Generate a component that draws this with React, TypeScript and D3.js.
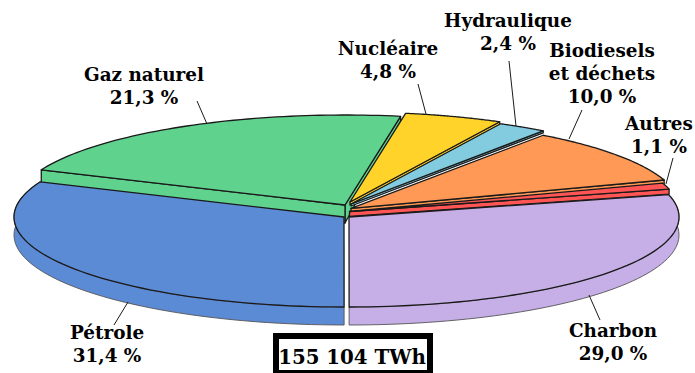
import React from "react";
import * as d3 from "d3";

const categories = ["Nucléaire", "Hydraulique", "Biodiesels et déchets", "Autres", "Charbon", "Pétrole", "Gaz naturel"];
const values = [4.8, 2.4, 10.0, 1.1, 29.0, 31.4, 21.3];
const colors = ["#ffd329", "#83cbde", "#ff9955", "#ff5555", "#c6aee7", "#5c8bd6", "#5fd38d"];
const centersX = [350, 351, 351, 349.5, 349, 344, 345];
const centersY = [202, 204, 208.4, 211.5, 217, 217, 205];
const stripDepths = [3, 2, 4.5, 5];
const labelLines = [["Nucléaire", "4,8 %"], ["Hydraulique", "2,4 %"], ["Biodiesels", "et déchets", "10,0 %"], ["Autres", "1,1 %"], ["Charbon", "29,0 %"], ["Pétrole", "31,4 %"], ["Gaz naturel", "21,3 %"]];
const labelX = [388, 508, 602, 659, 613, 107, 144];
const labelY = [55, 27, 57, 130, 337, 339, 81];
const leaders = [[418, 84, 426, 114], [509, 61, 516, 126], [582, 110, 569, 139], [673, 158, 666, 184], [589, 295, 600, 320], [128, 302, 114, 325], [197, 101, 207, 124]];
const total = "155 104 TWh";

const W = 695, H = 373, RX = 330, RY = 90, DEPTH = 18;
const FONT = "'DejaVu Serif', serif";
const STROKE = "#1a1a1a";

export default function App() {
  const pie = d3.pie<number>().sort(null).startAngle((9.7 * Math.PI) / 180).endAngle((369.7 * Math.PI) / 180);
  const arcs = pie(values);
  const line = d3.line<[number, number]>();

  const pt = (i: number, a: number, dy = 0): [number, number] => [
    centersX[i] + RX * Math.sin(a),
    centersY[i] - RY * Math.cos(a) + dy,
  ];
  const rim = (i: number, a0: number, a1: number, dy = 0) =>
    d3.range(0, 61).map((k) => pt(i, a0 + ((a1 - a0) * k) / 60, dy));

  // painting order: back slices first, the two front slices last
  const order = [6, 0, 1, 2, 3, 5, 4];

  return (
    <svg width={W} height={H} style={{ position: "absolute", left: 0, top: 0 }} fontFamily={FONT}>
      {order.map((i) => {
        const a = arcs[i];
        const a0 = a.startAngle, a1 = a.endAngle;
        const c: [number, number] = [centersX[i], centersY[i]];
        const cb: [number, number] = [c[0], c[1] + DEPTH];
        const top = [c, ...rim(i, a0, a1)] as [number, number][];
        const outer = [...rim(i, a0, a1), ...rim(i, a0, a1, DEPTH).reverse()];
        const wallA = [c, cb, pt(i, a0, DEPTH), pt(i, a0)] as [number, number][];
        const wallB = [c, cb, pt(i, a1, 5), pt(i, a1)] as [number, number][];
        const isSmall = i < 4;
        const tw = isSmall ? stripDepths[i] : DEPTH;
        const smallWall = [c, [c[0], c[1] + tw], pt(i, a1, tw), pt(i, a1)] as [number, number][];
        return (
          <g key={categories[i]} stroke={STROKE} strokeWidth={1.3} strokeLinejoin="round" fill={colors[i]}>
            {(i === 4 || i === 5) && <path d={line(outer) + "Z"} stroke="#555" strokeWidth={0.9} />}
            {i === 6 && <path d={line(wallB) + "Z"} />}
            {i === 6 && <path d={line(wallA) + "Z"} />}
            {isSmall && <path d={line(smallWall) + "Z"} />}
            <path d={line(top) + "Z"} />
          </g>
        );
      })}
      {leaders.map((l, i) => (
        <line key={i} x1={l[0]} y1={l[1]} x2={l[2]} y2={l[3]} stroke={STROKE} strokeWidth={1} />
      ))}
      {labelLines.map((ls, i) => (
        <text key={i} textAnchor="middle" fontWeight="bold" fontSize={18.4} fill="#000">
          {ls.map((t, k) => (
            <tspan key={k} x={labelX[i]} y={labelY[i] + k * 23}>{t}</tspan>
          ))}
        </text>
      ))}
      <rect x={276} y={336} width={154} height={37} fill="#fff" stroke="#000" strokeWidth={6} />
      <text x={352} y={364} textAnchor="middle" fontWeight="bold" fontSize={19.8}>{total}</text>
    </svg>
  );
}
